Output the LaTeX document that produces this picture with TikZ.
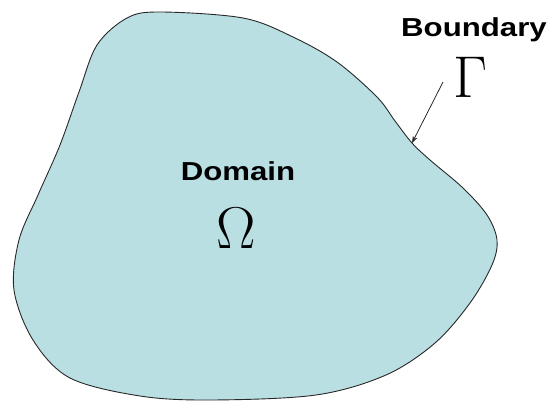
\documentclass[tikz,border=0pt]{standalone}
\usepackage{fontspec}
\usepackage{tikz}
\usetikzlibrary{arrows.meta}
\newfontfamily\labelfont[FakeStretch=1.2]{Liberation Sans}
\definecolor{domainfill}{RGB}{186,223,227}
\definecolor{edgegray}{RGB}{40,40,40}

\begin{document}
\begin{tikzpicture}[x=1pt, y=-1pt,
        region/.style={draw=edgegray, line width=0.9pt, fill=domainfill},
        word/.style={anchor=base, inner sep=0pt, font=\labelfont\fontsize{26}{26}\selectfont\bfseries},
        symb/.style={anchor=base, inner sep=0pt, font=\fontsize{59}{59}\selectfont},
    ]
        \useasboundingbox (0,0) rectangle (551,401);

        % Domain outline
        \draw[region] plot[smooth cycle, tension=0.55] coordinates {
            (160,12) (243,18) (293,37) (337,62) (377,97) (395,121) (412,143)
            (430,160) (463,188) (487,215) (497,240) (492,265) (470,303)
            (435,343) (386,375) (316,395) (211,400) (140,396) (70,378)
            (33,340) (14,290) (19,240) (38,195) (60,145) (79,92) (97,45) (127,18)};

        % Labels
        \node[word] (domain) at (238,180) {Domain};
        \node[symb] (omega) at (236.5,248) {Ω};
        \node[word] (boundary) at (474,37) {Boundary};
        \node[symb] (gamma) at (470,98) {Γ};

        % Pointer to the boundary
        \coordinate (gtail) at (443,82);
        \coordinate (gtip) at (412,143);
        \draw[-{Stealth[length=7pt, width=5pt]}, edgegray, line width=0.8pt] (gtail) -- (gtip);
    \end{tikzpicture}
\end{document}
